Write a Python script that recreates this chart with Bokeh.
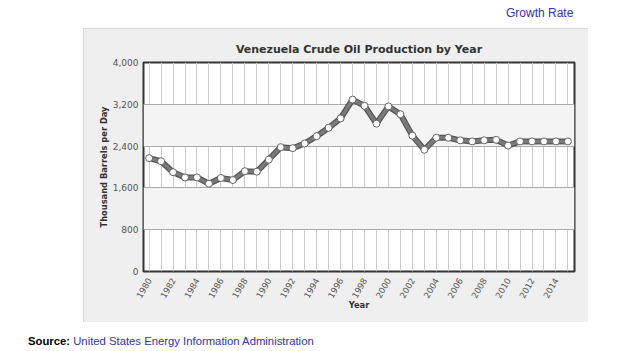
import math
from bokeh.plotting import figure
from bokeh.layouts import column
from bokeh.models import (ColumnDataSource, FixedTicker, Div,
                          NumeralTickFormatter, Range1d)
from bokeh.embed import file_html
from bokeh.resources import INLINE

years = list(range(1980, 2016))
production = [2170, 2110, 1900, 1800, 1800, 1680, 1790, 1750, 1920, 1910,
              2140, 2380, 2360, 2450, 2590, 2750, 2930, 3290, 3170, 2830,
              3160, 3010, 2600, 2330, 2560, 2560, 2510, 2490, 2510, 2520,
              2410, 2490, 2490, 2490, 2490, 2490]
y_ticks = [0, 800, 1600, 2400, 3200, 4000]
x_label_ticks = list(range(1980, 2015, 2))

title_text = "Venezuela Crude Oil Production by Year"
y_title = "Thousand Barrels per Day"
x_title = "Year"

src = ColumnDataSource(dict(year=years, value=production))

p = figure(width=505, height=294, output_backend="svg", toolbar_location=None,
           x_range=Range1d(1979.53, 2015.55), y_range=Range1d(0, 4000),
           min_border_left=60, min_border_right=14, min_border_top=34,
           min_border_bottom=51, title=title_text)
p.margin = (0, 0, 0, 83)
p.border_fill_color = "#efefef"
p.background_fill_color = "white"
p.outline_line_color = "#333333"
p.outline_line_width = 2
p.styles = {"box-shadow": "inset 0 0 0 1px #d0d0d0"}

p.title.align = "center"
p.title.text_font = "DejaVu Sans"
p.title.text_font_style = "bold"
p.title.text_font_size = "11px"
p.title.text_color = "#333333"
p.title.standoff = 14

# axes
p.yaxis.ticker = FixedTicker(ticks=y_ticks)
p.yaxis.formatter = NumeralTickFormatter(format="0,0")
p.xaxis.ticker = FixedTicker(ticks=x_label_ticks)
p.xgrid.ticker = FixedTicker(ticks=years)
for ax in (p.xaxis[0], p.yaxis[0]):
    ax.axis_line_color = None
    ax.major_tick_line_color = None
    ax.minor_tick_line_color = None
    ax.major_label_text_font = "DejaVu Sans"
    ax.major_label_text_font_size = "9px"
    ax.major_label_text_color = "#555555"
    ax.axis_label_text_font = "DejaVu Sans"
    ax.axis_label_text_font_size = "8.3px"
    ax.axis_label_text_font_style = "bold"
    ax.axis_label_text_color = "#333333"
p.yaxis.major_label_standoff = -1
p.yaxis.axis_label = y_title
p.yaxis.axis_label_standoff = 1
p.xaxis.major_label_orientation = math.pi / 3
p.xaxis.major_label_standoff = 1
p.xaxis.major_label_text_font_size = "8.5px"
p.xaxis.axis_label = x_title
p.xaxis.axis_label_standoff = -4

p.xgrid.grid_line_color = "#cccccc"
p.xgrid.grid_line_width = 1
p.ygrid.grid_line_color = "#aaaaaa"
p.ygrid.grid_line_width = 1
p.ygrid.band_fill_color = "#f4f4f4"
p.ygrid.band_fill_alpha = 1.0

# series
p.line("year", "value", source=src, line_color="#555555", line_width=6)
p.line("year", "value", source=src, line_color="#7a7a7a", line_width=3.5)
p.scatter("year", "value", source=src, size=7, fill_color="white",
          line_color="#666666", line_width=1)

top_div = Div(width=640, height=28, margin=(0, 0, 0, 0), text=(
    '<div style="position:absolute; left:506px; top:5px; '
    'font-family:\'Liberation Sans\', Arial, sans-serif; font-size:12px; '
    'color:#3333aa; white-space:nowrap;">Growth Rate</div>'))
bottom_div = Div(width=640, height=29, margin=(0, 0, 0, 0), text=(
    '<div style="position:absolute; left:28px; top:11px; '
    'font-family:\'Liberation Sans\', Arial, sans-serif; font-size:11.3px; '
    'white-space:nowrap;"><b style="color:#000">Source:</b> '
    '<span style="color:#3333aa">United States Energy Information '
    'Administration</span></div>'))

layout = column(top_div, p, bottom_div, spacing=0)

open("out.html", "w").write(file_html(layout, INLINE))
